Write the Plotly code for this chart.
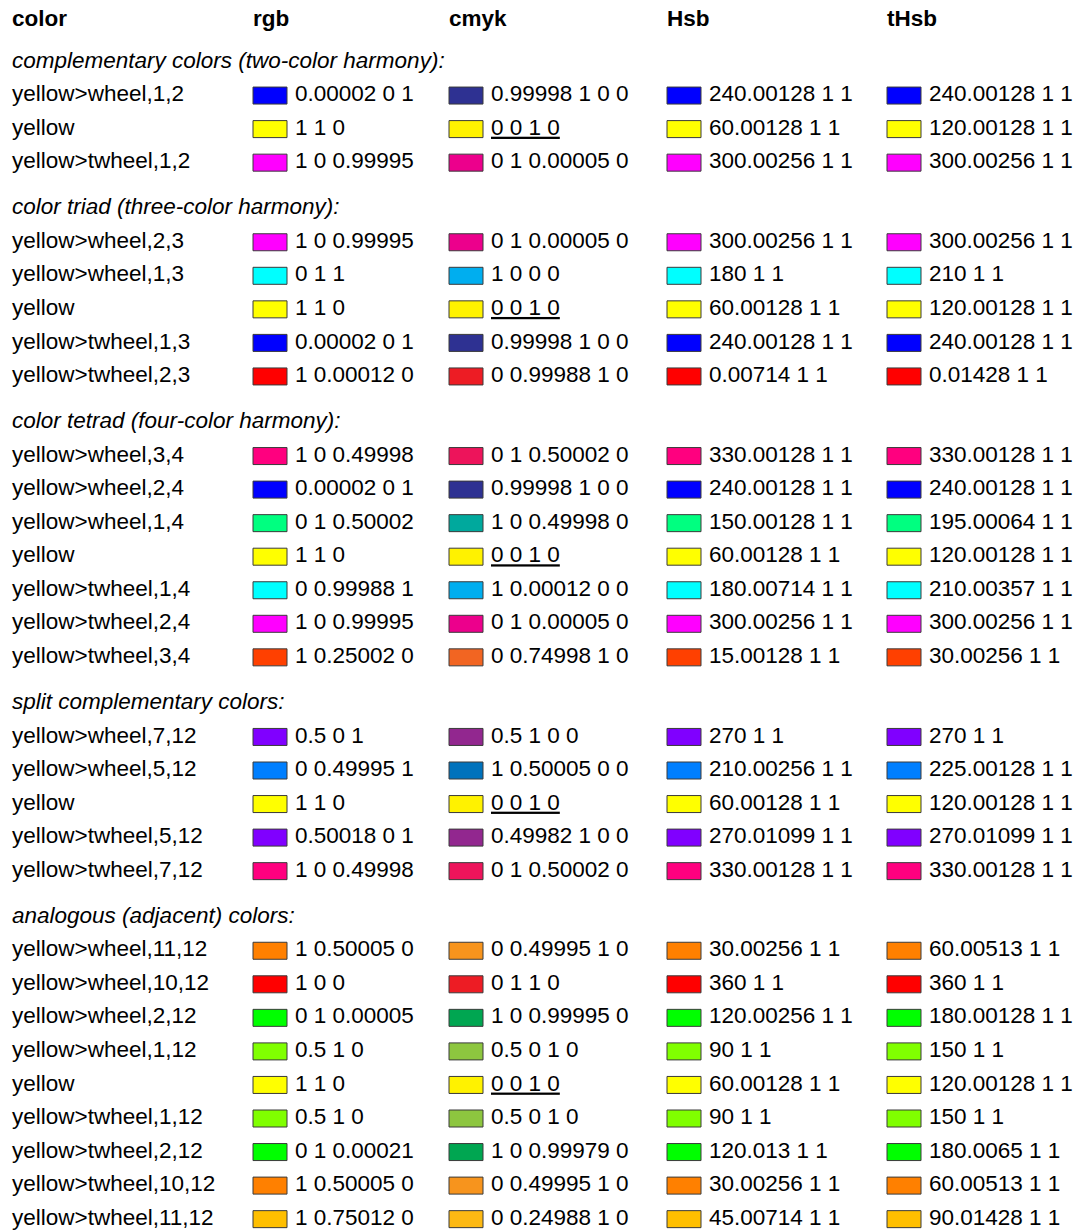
import plotly.graph_objects as go

# --- data -------------------------------------------------------------------
headers = ["color", "rgb", "cmyk", "Hsb", "tHsb"]

section_titles = [
    "complementary colors (two-color harmony):",
    "color triad (three-color harmony):",
    "color tetrad (four-color harmony):",
    "split complementary colors:",
    "analogous (adjacent) colors:",
]
section_sizes = [3, 5, 7, 5, 9]

names = [
    "yellow>wheel,1,2", "yellow", "yellow>twheel,1,2",
    "yellow>wheel,2,3", "yellow>wheel,1,3", "yellow", "yellow>twheel,1,3", "yellow>twheel,2,3",
    "yellow>wheel,3,4", "yellow>wheel,2,4", "yellow>wheel,1,4", "yellow",
    "yellow>twheel,1,4", "yellow>twheel,2,4", "yellow>twheel,3,4",
    "yellow>wheel,7,12", "yellow>wheel,5,12", "yellow", "yellow>twheel,5,12", "yellow>twheel,7,12",
    "yellow>wheel,11,12", "yellow>wheel,10,12", "yellow>wheel,2,12", "yellow>wheel,1,12", "yellow",
    "yellow>twheel,1,12", "yellow>twheel,2,12", "yellow>twheel,10,12", "yellow>twheel,11,12",
]

rgb_vals = [
    "0.00002 0 1", "1 1 0", "1 0 0.99995",
    "1 0 0.99995", "0 1 1", "1 1 0", "0.00002 0 1", "1 0.00012 0",
    "1 0 0.49998", "0.00002 0 1", "0 1 0.50002", "1 1 0", "0 0.99988 1", "1 0 0.99995", "1 0.25002 0",
    "0.5 0 1", "0 0.49995 1", "1 1 0", "0.50018 0 1", "1 0 0.49998",
    "1 0.50005 0", "1 0 0", "0 1 0.00005", "0.5 1 0", "1 1 0",
    "0.5 1 0", "0 1 0.00021", "1 0.50005 0", "1 0.75012 0",
]

cmyk_vals = [
    "0.99998 1 0 0", "0 0 1 0", "0 1 0.00005 0",
    "0 1 0.00005 0", "1 0 0 0", "0 0 1 0", "0.99998 1 0 0", "0 0.99988 1 0",
    "0 1 0.50002 0", "0.99998 1 0 0", "1 0 0.49998 0", "0 0 1 0", "1 0.00012 0 0", "0 1 0.00005 0", "0 0.74998 1 0",
    "0.5 1 0 0", "1 0.50005 0 0", "0 0 1 0", "0.49982 1 0 0", "0 1 0.50002 0",
    "0 0.49995 1 0", "0 1 1 0", "1 0 0.99995 0", "0.5 0 1 0", "0 0 1 0",
    "0.5 0 1 0", "1 0 0.99979 0", "0 0.49995 1 0", "0 0.24988 1 0",
]

# cmyk swatches as shown by the viewer (process-ink look)
cmyk_swatch = [
    "#2e3192", "#fff200", "#ec008c",
    "#ec008c", "#00aeef", "#fff200", "#2e3192", "#ed1c24",
    "#ed145b", "#2e3192", "#00a99d", "#fff200", "#00aeef", "#ec008c", "#f26522",
    "#92278f", "#0072bc", "#fff200", "#92278f", "#ed145b",
    "#f7941d", "#ed1c24", "#00a651", "#8dc63f", "#fff200",
    "#8dc63f", "#00a651", "#f7941d", "#fdb913",
]

hsb_vals = [
    "240.00128 1 1", "60.00128 1 1", "300.00256 1 1",
    "300.00256 1 1", "180 1 1", "60.00128 1 1", "240.00128 1 1", "0.00714 1 1",
    "330.00128 1 1", "240.00128 1 1", "150.00128 1 1", "60.00128 1 1",
    "180.00714 1 1", "300.00256 1 1", "15.00128 1 1",
    "270 1 1", "210.00256 1 1", "60.00128 1 1", "270.01099 1 1", "330.00128 1 1",
    "30.00256 1 1", "360 1 1", "120.00256 1 1", "90 1 1", "60.00128 1 1",
    "90 1 1", "120.013 1 1", "30.00256 1 1", "45.00714 1 1",
]

thsb_vals = [
    "240.00128 1 1", "120.00128 1 1", "300.00256 1 1",
    "300.00256 1 1", "210 1 1", "120.00128 1 1", "240.00128 1 1", "0.01428 1 1",
    "330.00128 1 1", "240.00128 1 1", "195.00064 1 1", "120.00128 1 1",
    "210.00357 1 1", "300.00256 1 1", "30.00256 1 1",
    "270 1 1", "225.00128 1 1", "120.00128 1 1", "270.01099 1 1", "330.00128 1 1",
    "60.00513 1 1", "360 1 1", "180.00128 1 1", "150 1 1", "120.00128 1 1",
    "150 1 1", "180.0065 1 1", "60.00513 1 1", "90.01428 1 1",
]


def rgb_hex(s):
    r, g, b = (float(v) for v in s.split())
    return "#%02x%02x%02x" % (round(r * 255), round(g * 255), round(b * 255))


# --- layout constants -------------------------------------------------------
W, H = 1085, 1231
FONT = "Liberation Sans"
FS = 22.5
name_x = 12
swatch_x = [253, 449, 667, 887]
swatch_w, swatch_h = 34, 17
text_gap = 8
header_y = 20
first_title_y = 62
pitch = 33.55
extra = 12.5

# row positions
title_y = []
row_y = []
y = first_title_y
for k, n in enumerate(section_sizes):
    if k > 0:
        y += pitch + extra
    title_y.append(y)
    for _ in range(n):
        y += pitch
        row_y.append(y)

fig = go.Figure()


def add_text(xs, ys, texts):
    fig.add_trace(go.Scatter(
        x=xs, y=ys, text=texts, mode="text",
        textposition="middle right",
        textfont=dict(family=FONT, size=FS, color="black"),
        hoverinfo="skip", showlegend=False, cliponaxis=False,
    ))


# header
head_x = [name_x] + swatch_x
add_text(head_x, [header_y] * len(headers), [f"<b>{h}</b>" for h in headers])

# section titles
add_text([name_x] * len(section_titles), title_y, [f"<i>{t}</i>" for t in section_titles])

# first column names
add_text([name_x] * len(names), row_y, [n.replace(">", "&gt;") for n in names])

# value columns
cmyk_text = [f"<u>{c}</u>" if n == "yellow" else c for n, c in zip(names, cmyk_vals)]
columns = [rgb_vals, cmyk_text, hsb_vals, thsb_vals]
for sx, vals in zip(swatch_x, columns):
    add_text([sx + swatch_w + text_gap] * len(vals), row_y, vals)

# swatches
rgb_colors = [rgb_hex(v) for v in rgb_vals]
swatch_colors = [rgb_colors, cmyk_swatch, rgb_colors, rgb_colors]
for sx, cols in zip(swatch_x, swatch_colors):
    for yc, c in zip(row_y, cols):
        fig.add_shape(
            type="rect", xref="x", yref="y",
            x0=sx, x1=sx + swatch_w, y0=yc - swatch_h / 2, y1=yc + swatch_h / 2,
            fillcolor=c, line=dict(color="#3a3a3a", width=1),
        )

fig.update_layout(
    width=W, height=H,
    margin=dict(l=0, r=0, t=0, b=0),
    paper_bgcolor="white", plot_bgcolor="white",
    xaxis=dict(range=[0, W], visible=False, fixedrange=True),
    yaxis=dict(range=[H, 0], visible=False, fixedrange=True),
)

# the page's default body margin would push the figure 8px right/down
fig.write_html(
    "out.html",
    config={"displayModeBar": False},
    post_script="document.body.style.margin='0px';",
)
